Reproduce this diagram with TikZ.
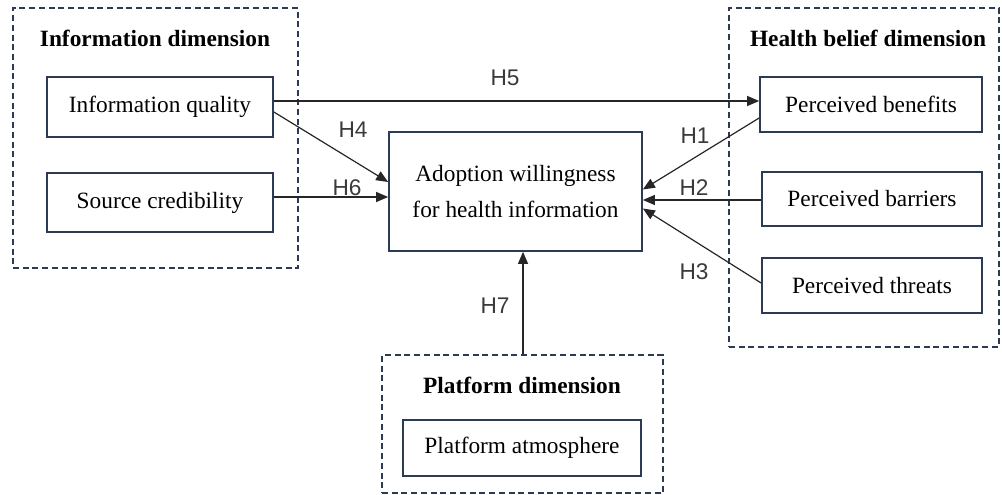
\documentclass[tikz,border=0pt]{standalone}
\usepackage{fontspec}
\setmainfont{Liberation Serif}
\newfontfamily\labfont{Liberation Sans}
\usetikzlibrary{arrows.meta,calc}
\definecolor{navy}{HTML}{2B3A55}
\definecolor{labgray}{HTML}{3A3A3A}
\tikzset{
  box/.style={draw=navy,line width=1.3pt,rectangle,inner sep=0pt,font=\fontsize{17.5}{21}\selectfont,text=black,align=center},
  group/.style={draw=navy,line width=1.3pt,dash pattern=on 4.5pt off 2.8pt,rectangle,inner sep=0pt},
  grouptitle/.style={font=\fontsize{17.5}{21}\selectfont\bfseries,text=black},
  arr/.style={draw=black!85,line width=0.9pt,-{Triangle[length=9pt,width=7.5pt]}},
  hlab/.style={font=\labfont\fontsize{17}{20}\selectfont,text=labgray}
}
\begin{document}
\begin{tikzpicture}[x=0.75pt,y=-0.75pt]
\useasboundingbox (0,0) rectangle (1002,495);
% groups
\node[group,minimum width=213.75pt,minimum height=195pt] (gi) at (155.5,138) {};
\node[group,minimum width=202.5pt,minimum height=254.25pt] (gh) at (864,177.5) {};
\node[group,minimum width=210.75pt,minimum height=103.5pt] (gp) at (522.5,424) {};
\node[grouptitle] (ti) at (155,38) {Information dimension};
\node[grouptitle] (th) at (868,38) {Health belief dimension};
\node[grouptitle] (tp) at (522,385) {Platform dimension};
% boxes
\node[box,minimum width=169.5pt,minimum height=45pt] (iq) at (160,107) {Information quality};
\node[box,minimum width=169.5pt,minimum height=44.25pt] (sc) at (160,202.5) {Source credibility};
\node[box,minimum width=189.75pt,minimum height=89.25pt] (aw) at (515.5,191.5) {Adoption willingness\\[6pt]for health information};
\node[box,minimum width=166.5pt,minimum height=41.25pt] (pb) at (871,104.5) {Perceived benefits};
\node[box,minimum width=165pt,minimum height=40.5pt] (pr) at (872,199) {Perceived barriers};
\node[box,minimum width=165pt,minimum height=41.25pt] (pt) at (872,285.5) {Perceived threats};
\node[box,minimum width=178.5pt,minimum height=42pt] (pa) at (522,448) {Platform atmosphere};
% free-end helper coordinates
\coordinate (s5) at ($(iq.east)+(0,-6)$);
\coordinate (s6) at ($(sc.east)+(0,-5.5)$);
\coordinate (s2) at ($(pr.west)+(0,1)$);
\coordinate (s7) at ($(gp.north)+(0.5,0)$);
% connectors
\draw[arr] (s5) -- (pb.west |- s5);
\draw[arr] ($(iq.east)+(0,5)$) -- ($(aw.west)+(0,-9.5)$);
\draw[arr] (s6) -- (aw.west |- s6);
\draw[arr] ($(pb.west)+(0,13.5)$) -- ($(aw.east)+(0,-2)$);
\draw[arr] (s2) -- (aw.east |- s2);
\draw[arr] ($(pt.west)+(0,-2.5)$) -- ($(aw.east)+(0,17)$);
\draw[arr] (s7) -- (s7 |- aw.south);
% labels
\node[hlab] (h5) at (505,78) {H5};
\node[hlab] (h4) at (353,130) {H4};
\node[hlab] (h6) at (347,188) {H6};
\node[hlab] (h1) at (695,136) {H1};
\node[hlab] (h2) at (694,188) {H2};
\node[hlab] (h3) at (694,272) {H3};
\node[hlab] (h7) at (495,306) {H7};
\end{tikzpicture}
\end{document}
